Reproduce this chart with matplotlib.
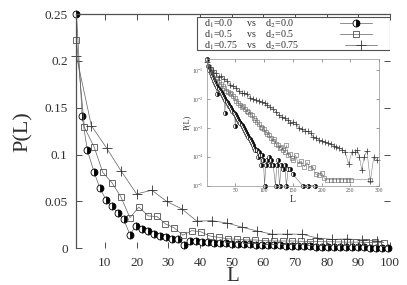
import matplotlib
matplotlib.use("Agg")
import matplotlib.pyplot as plt
from matplotlib.patches import Rectangle
import numpy as np

# main panel: P(L) for the three disorder pairs
circ_L = [1, 2.8, 4.4, 6.6, 8.4, 10.3, 12.2, 14.0, 15.9, 17.9, 19.7, 21.6, 23.5,
          25.4, 27.3, 29.2, 31.1, 33.0, 34.9, 36.8, 38.7, 40.6, 42.5, 44.4, 46.3,
          48.2, 50.1, 52.0, 53.9, 55.8, 57.7, 59.6, 61.5, 63.4, 65.3, 67.2, 69.1,
          71.0, 72.9, 74.8, 76.7, 78.6, 80.5, 82.4, 84.3, 86.2, 88.1, 90.0, 91.9,
          93.8, 95.7, 97.6, 99.4]
circ_P = [0.25, 0.141, 0.105, 0.081, 0.064, 0.052, 0.045, 0.038, 0.031, 0.0146,
          0.0235, 0.0206, 0.0185, 0.0157, 0.0131, 0.012, 0.0103, 0.0096, 0.004,
          0.0075, 0.0075, 0.007, 0.0065, 0.006, 0.0057, 0.0053, 0.005, 0.0047,
          0.0044, 0.0042, 0.004, 0.0037, 0.0035, 0.0033, 0.003, 0.0028, 0.0026,
          0.0024, 0.0022, 0.002, 0.0019, 0.0017, 0.0016, 0.0015, 0.0014, 0.0012,
          0.0011, 0.001, 0.0009, 0.0008, 0.0007, 0.0006, 0.0005]

sq_L = [1, 3.5, 6.6, 9.3, 12.2, 15.0, 17.9, 20.7, 23.7, 26.4, 29.1, 31.8, 34.6,
        37.4, 40.2, 43.1, 45.9, 48.8, 51.7, 54.6, 57.5, 60.4, 63.3, 66.2, 69.1,
        72.0, 74.9, 77.8, 80.7, 83.6, 86.5, 89.4, 92.3, 95.2, 98.0]
sq_P = [0.222, 0.129, 0.108, 0.081, 0.070, 0.055, 0.0327, 0.044, 0.0345, 0.034,
        0.026, 0.022, 0.014, 0.0188, 0.0177, 0.0131, 0.0117, 0.0102, 0.0096,
        0.0089, 0.0089, 0.0081, 0.0078, 0.0078, 0.0078, 0.0075, 0.0072, 0.007,
        0.007, 0.0068, 0.0066, 0.0066, 0.0064, 0.0062, 0.006]

pl_L = [1, 5.7, 10.5, 15.2, 20.0, 24.8, 29.5, 34.3, 39.0, 43.8, 48.5, 53.3, 58.0,
        62.8, 67.5, 72.3, 77.0, 81.8, 86.5, 91.3, 96.0]
pl_P = [0.205, 0.131, 0.107, 0.082, 0.058, 0.062, 0.050, 0.042, 0.029, 0.0295,
        0.027, 0.0225, 0.0185, 0.015, 0.0152, 0.015, 0.011, 0.0095, 0.010, 0.009,
        0.0078]

labels = [r"d$_1$=0.0      vs    d$_2$=0.0$\enspace$",
          r"d$_1$=0.5      vs    d$_2$=0.5$\enspace$",
          r"d$_1$=0.75    vs    d$_2$=0.75"]

# inset: same distributions on a log scale, longer L range (log10 P)
in_circ_L = [1, 3, 5, 7, 9, 11, 13, 15, 17, 18, 19, 21, 23, 25, 27, 29, 31, 32, 33,
             35, 37, 39, 41, 43, 45, 47, 49, 50, 51, 53, 55, 57, 59, 61, 63, 65,
             67, 69, 71, 73, 75, 77, 79, 81, 83, 85, 87, 89, 91, 93, 95, 97, 99,
             101, 103, 105, 108, 110, 113, 116, 120, 122, 124, 127, 130, 133,
             136, 139, 142, 145, 150, 167, 177, 188]
in_circ_lp = [-0.60, -0.85, -0.98, -1.09, -1.19, -1.28, -1.36, -1.43, -1.50, -1.83,
              -1.56, -1.63, -1.70, -1.76, -1.83, -1.90, -1.96, -2.47, -2.03, -2.09,
              -2.15, -2.22, -2.28, -2.34, -2.40, -2.47, -2.53, -2.93, -2.59, -2.65,
              -2.71, -2.78, -2.84, -2.90, -2.97, -3.03, -3.10, -3.17, -3.24, -3.31,
              -3.37, -3.45, -3.53, -3.60, -3.68, -3.75, -3.75, -4.00, -3.85, -3.95,
              -4.30, -3.95, -4.12, -5.00, -4.30, -4.12, -4.00, -4.30, -4.12, -4.30,
              -5.00, -4.30, -4.12, -5.00, -4.30, -4.41, -4.30, -5.00, -4.41, -4.41,
              -4.60, -5.00, -5.00, -5.00]

in_sq_L = [1, 4, 7, 10, 13, 16, 19, 22, 25, 28, 31, 34, 37, 40, 43, 46, 49, 52, 55,
           58, 61, 64, 67, 70, 73, 76, 79, 82, 85, 88, 91, 94, 97, 100, 103, 106,
           109, 112, 115, 118, 121, 124, 127, 130, 133, 136, 139, 142, 145, 148,
           151, 155, 160, 165, 170, 175, 180, 185, 190, 195, 200, 205, 210, 216,
           222, 228, 234, 240, 246, 252, 285]
in_sq_lp = [-0.65, -0.88, -0.99, -1.10, -1.17, -1.27, -1.38, -1.41, -1.47, -1.55,
            -1.62, -1.70, -1.74, -1.78, -1.82, -1.90, -1.96, -2.05, -2.12, -2.20,
            -2.26, -2.25, -2.35, -2.40, -2.45, -2.50, -2.55, -2.65, -2.72, -2.80,
            -2.85, -2.95, -3.00, -3.05, -3.15, -3.20, -3.25, -3.35, -3.45, -3.40,
            -3.55, -3.60, -3.70, -3.65, -3.75, -3.85, -3.60, -3.95, -3.90, -4.05,
            -4.10, -3.95, -4.25, -4.15, -4.35, -4.20, -4.40, -4.36, -4.60, -4.65,
            -4.55, -4.75, -4.80, -4.80, -4.80, -4.80, -4.80, -4.80, -4.80, -4.80,
            -4.80]

in_pl_L = [1, 6, 11, 16, 21, 26, 31, 36, 41, 46, 51, 56, 61, 66, 71, 76, 81, 86,
           91, 96, 101, 106, 111, 116, 121, 126, 131, 136, 141, 146, 151, 156, 161,
           166, 171, 176, 181, 186, 191, 196, 201, 206, 211, 216, 221, 226, 231,
           236, 241, 247, 253, 258, 262, 266, 270, 274, 279, 285, 291, 296]
in_pl_lp = [-0.69, -0.88, -0.97, -1.09, -1.24, -1.21, -1.30, -1.38, -1.50, -1.53,
            -1.60, -1.72, -1.80, -1.80, -1.82, -1.95, -1.98, -2.02, -2.05, -2.10,
            -2.12, -2.20, -2.28, -2.35, -2.45, -2.55, -2.62, -2.65, -2.72, -2.84,
            -2.78, -2.85, -3.00, -3.05, -3.10, -3.12, -3.18, -3.31, -3.35, -3.42,
            -3.45, -3.48, -3.52, -3.55, -3.62, -3.65, -3.70, -3.75, -3.83, -4.24,
            -3.83, -3.85, -3.77, -4.00, -4.47, -4.00, -3.80, -4.83, -4.00, -4.10]

plt.rcParams["font.family"] = ["Liberation Serif", "DejaVu Serif"]
plt.rcParams["mathtext.fontset"] = "stix"

ink = "#303030"
line_c = "#606060"

fig = plt.figure(figsize=(4.07, 2.85), dpi=100)
ax = fig.add_axes([0.1867, 0.1288, 0.7715, 0.822])

circ_kw = dict(marker="o", fillstyle="right", markerfacecolor="black",
               markerfacecoloralt="white", markeredgecolor="black", mew=0.6)
h1, = ax.plot(circ_L, circ_P, color=line_c, lw=0.5, ms=5, clip_on=False, **circ_kw)
h2, = ax.plot(sq_L, sq_P, color=line_c, lw=0.5, marker="s", ms=5,
              mfc="none", mec="#505050", mew=0.6, clip_on=False)
h3, = ax.plot(pl_L, pl_P, color=line_c, lw=0.5, marker="+", ms=7,
              mec="#303030", mew=0.6, clip_on=False)

ax.set_xlim(0.85, 100)
ax.set_ylim(0, 0.25)
ax.set_xticks(range(10, 101, 10))
ax.set_yticks([0, 0.05, 0.1, 0.15, 0.2, 0.25])
ax.set_yticklabels(["0", "0.05", "0.1", "0.15", "0.2", "0.25"])
ax.tick_params(direction="in", length=4, width=0.6, top=True, right=True,
               labelsize=9.5, colors=ink, pad=6)
for s in ("bottom", "right"):
    ax.spines[s].set_visible(False)
for s in ("left", "top"):
    ax.spines[s].set_color("#505050")
    ax.spines[s].set_linewidth(0.9)
ax.set_xlabel("L", fontsize=15, color=ink, labelpad=-1)
ax.set_ylabel("P(L)", fontsize=16, color=ink, labelpad=8)

# gnuplot-style key: box drawn separately, entries with sample on the right
ax.add_patch(Rectangle((0.385, 0.8464), 0.615, 0.1421, transform=ax.transAxes,
                       facecolor="white", edgecolor="#505050", lw=0.8, zorder=4))
leg = ax.legend([h1, h2, h3], labels, loc="upper right",
                bbox_to_anchor=(0.9586, 0.987), markerfirst=False, fontsize=7.2,
                handlelength=3.2, handletextpad=4.6, labelspacing=-0.15,
                borderpad=0, borderaxespad=0, frameon=False)
leg.set_zorder(5)
for col in leg._legend_handle_box.get_children():
    col.align = "left"
for t in leg.get_texts():
    t.set_color(ink)

# inset
ins = fig.add_axes([0.5074, 0.3491, 0.4238, 0.4439])
ins.plot(in_circ_L, 10.0 ** np.array(in_circ_lp), color="#707070", lw=0.4,
         ms=3, clip_on=False, **{**circ_kw, "mew": 0.4})
ins.plot(in_sq_L, 10.0 ** np.array(in_sq_lp), color="#808080", lw=0.4,
         marker="s", ms=3.5, mfc="none", mec="#606060", mew=0.4, clip_on=False)
ins.plot(in_pl_L, 10.0 ** np.array(in_pl_lp), color="#808080", lw=0.4,
         marker="+", ms=4.5, mec="#303030", mew=0.5, clip_on=False)
ins.set_yscale("log")
ins.set_xlim(0, 300)
ins.set_ylim(1e-5, 0.25)
ins.set_xticks([50, 100, 150, 200, 250, 300])
ins.set_yticks([1e-1, 1e-2, 1e-3, 1e-4, 1e-5])
ins.minorticks_off()
ins.tick_params(direction="in", length=2.5, width=0.4, top=True, right=True,
                labelsize=4, colors="#505050", pad=2)
for s in ins.spines.values():
    s.set_color("#909090")
    s.set_linewidth(0.5)
ins.set_xlabel("L", fontsize=7, color=ink, labelpad=1)
ins.set_ylabel("P(L)", fontsize=6, color=ink, labelpad=1)

fig.savefig("out.png", dpi=100)
